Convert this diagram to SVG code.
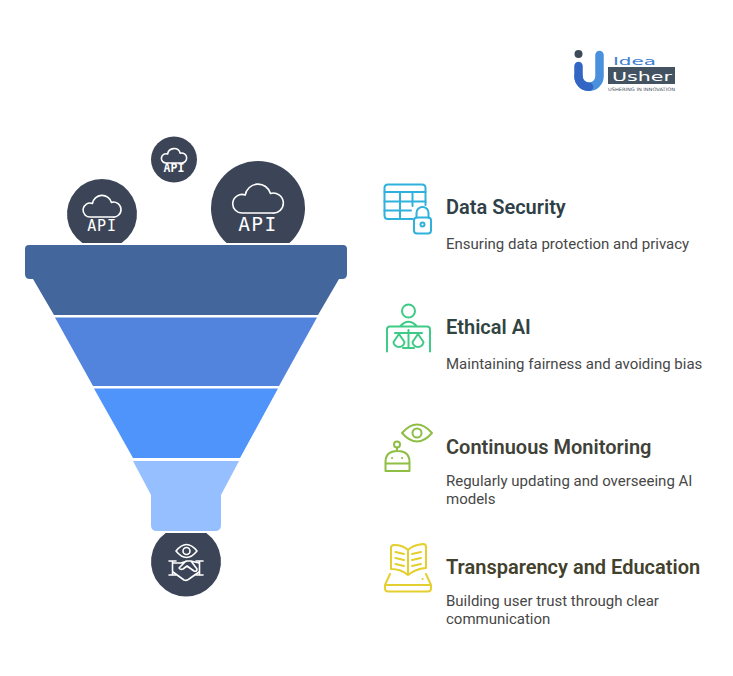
<svg xmlns="http://www.w3.org/2000/svg" width="733" height="676" viewBox="0 0 733 676">
<style>
.t{font-family:Roboto,"Liberation Sans",sans-serif;font-size:20px;font-weight:600}
.b{font-family:Roboto,"Liberation Sans",sans-serif;font-size:15px;fill:#474747}
.c{fill:#3c4557}
.w{fill:none;stroke:#fff;stroke-width:1.6;stroke-linecap:round;stroke-linejoin:round;vector-effect:non-scaling-stroke}
.a{font-family:"DejaVu Sans Mono",monospace;fill:#fff;text-anchor:middle}
.i{fill:none;stroke-width:2;stroke-linecap:round;stroke-linejoin:round}
.s1{stroke:#2fb1dc}.s2{stroke:#3ecb86}.s3{stroke:#8fbe45}.s4{stroke:#e3cf2e}
.l{font-family:"DejaVu Sans",sans-serif}
</style>
<defs>
<path id="cloud" class="w" d="M-15 14H14A10 10 0 1 0 12.500 -5.500A13 13 0 0 0 -12.800 -4A9.300 9.300 0 1 0 -15 14Z"/>
</defs>
<rect width="733" height="676" fill="#fff"/>
<g id="logo">
<circle cx="578.500" cy="54" r="4" fill="#3c4a5a"/>
<path d="M599.500 55V76.250A10.500 10.500 0 0 1 578.500 76.250" fill="none" stroke="#4a90dc" stroke-width="8.500" stroke-linecap="round"/>
<path d="M578.500 66V76.250A10.500 10.500 0 0 0 589 86.750" fill="none" stroke="#3366c4" stroke-width="8.500" stroke-linecap="round"/>
<text class="l" x="613" y="64.500" font-size="11" fill="#3f7fd0" textLength="43" lengthAdjust="spacingAndGlyphs">Idea</text>
<rect x="608" y="67" width="67" height="17" fill="#435361"/>
<text class="l" x="612" y="80.500" font-size="13" fill="#fff" textLength="60" lengthAdjust="spacingAndGlyphs">Usher</text>
<text class="l" x="608" y="90.500" font-size="4.600" fill="#43505c" textLength="67" lengthAdjust="spacingAndGlyphs">USHERING IN INNOVATION</text>
</g>
<g id="api-left">
<path class="c" d="M82.400 243A35 35 0 1 1 121.600 243Z"/>
<use href="#cloud" transform="translate(102 206.500) scale(.75)"/>
<text class="a" x="102" y="231" font-size="15" letter-spacing=".8">API</text>
</g>
<g id="api-top">
<circle class="c" cx="174" cy="159.500" r="23"/>
<use href="#cloud" transform="translate(174 156) scale(.5)"/>
<text class="a" x="174" y="172" font-size="11.500" font-weight="700">API</text>
</g>
<g id="api-right">
<path class="c" d="M226.600 243A47 47 0 1 1 289.400 243Z"/>
<use href="#cloud" transform="translate(258 199)"/>
<text class="a" x="258" y="231" font-size="19.500" letter-spacing="1.500">API</text>
</g>
<g id="funnel">
<path fill="#43669d" d="M29 245H343Q347 245 347 249V274Q347 279 342 279H339L318 315H54L33 279H30Q25 279 25 274V249Q25 245 29 245Z"/>
<path fill="#5284de" d="M55 317.500H317L279 386H93Z"/>
<path fill="#4f94fb" d="M94 388.500H278L240 458H133Z"/>
<path fill="#96bfff" d="M133 461H239L221 495V525Q221 531 215 531H157Q151 531 151 525V495Z"/>
</g>
<g id="handshake">
<path class="c" d="M165.700 533H206.300A35 35 0 1 1 165.700 533Z"/>
<path class="w" d="M176 551Q186.500 538 197 551Q186.500 564 176 551Z"/>
<circle class="w" cx="186.500" cy="551" r="3.500"/>
<path class="w" d="M169 561H176M172.500 561V575M169 575H176M196 561H203M199.500 561V575M196 575H203"/>
<path class="w" d="M173 563H181L187 561H191L199 563M173 572L184 580Q187 581 189 579L199 572M191 561L197 569Q197 572 194 571L187 566L183 569Q180 570 179 568L186 561"/>
</g>
<g id="item1">
<g class="i s1">
<path d="M413 219H388Q384.500 219 384.500 215.500V188Q384.500 184.500 388 184.500H422Q425.500 184.500 425.500 188V205"/>
<path d="M384.500 192H425.500M384.500 201.500H425.500M384.500 210.500H411M400 192V219M412.500 192V206"/>
<rect x="414" y="217.500" width="17" height="16" rx="3"/>
<path d="M416.500 217.500V213A6 6 0 0 1 428.500 213V217.500"/>
<circle cx="422.500" cy="224.500" r="2"/>
</g>
<text class="t" x="446" y="214" fill="#2f3f48">Data Security</text>
<text class="b" x="446" y="248.500">Ensuring data protection and privacy</text>
</g>
<g id="item2">
<g class="i s2">
<circle cx="408.500" cy="311" r="6.500"/>
<path d="M400 326.500Q408.500 317 417 326.500M387 351.500V329.500Q387 326.500 390 326.500H427Q430 326.500 430 329.500V351.500"/>
<path d="M408.500 330V348M403 348H414M395 333H422M399 334L393.500 342A5.500 5 0 0 0 404.500 342L399 334M418 334L412.500 342A5.500 5 0 0 0 423.500 342L418 334"/>
</g>
<text class="t" x="446" y="334" fill="#32443f">Ethical AI</text>
<text class="b" x="446" y="368.500">Maintaining fairness and avoiding bias</text>
</g>
<g id="item3">
<g class="i s3">
<path d="M402 433Q417 416 432 433Q417 450 402 433Z"/>
<circle cx="417" cy="433" r="4.500"/>
<circle cx="397" cy="444.500" r="3"/>
<path d="M397 447.500V451M385.500 471V462Q385.500 451 397.500 451Q409.500 451 409.500 462V471ZM385.500 463.500H409.500"/>
<path d="M392 458h.1M402 458h.1"/>
</g>
<text class="t" x="446" y="454" fill="#3f4239">Continuous Monitoring</text>
<text class="b" x="446" y="486">Regularly updating and overseeing AI</text>
<text class="b" x="446" y="504">models</text>
</g>
<g id="item4">
<g class="i s4">
<path d="M408 575Q401 569 391 569V548Q391 545 394 545Q403 545 408 550Q413 545 423 544Q426 544 426 547V568Q415 569 408 575ZM408 550V575"/>
<path d="M395.500 552L404 554M395.500 558L404 560M395.500 564L404 566M412 554L421 552M412 560L421 558M412 566L421 564"/>
<path d="M390 574L385 585V588Q385 591.500 388 591.500H428Q431 591.500 431 588V585L426 574M385 585H431"/>
<path d="M422.500 579h.1"/>
</g>
<text class="t" x="446" y="574" fill="#42412d">Transparency and Education</text>
<text class="b" x="446" y="606">Building user trust through clear</text>
<text class="b" x="446" y="624">communication</text>
</g>
</svg>
